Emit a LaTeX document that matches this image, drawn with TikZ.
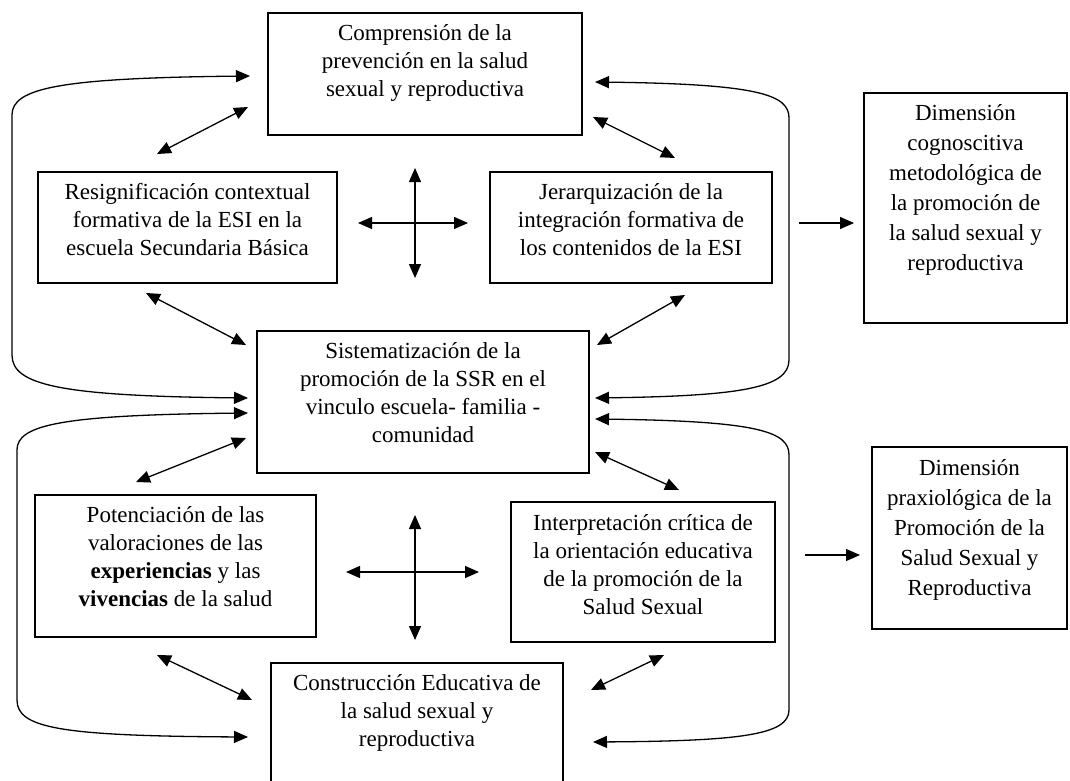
\documentclass[tikz,border=0pt]{standalone}
\usepackage{fontspec}
\setmainfont{Liberation Serif}
\usetikzlibrary{arrows.meta}
\begin{document}
\begin{tikzpicture}[x=1pt,y=-1pt,
        caja/.style={draw,line width=1.3pt,inner sep=0pt},
        texto/.style={anchor=north,align=center,inner sep=0pt,font=\fontsize{23}{28}\selectfont},
        textoalto/.style={texto,font=\fontsize{23}{30}\selectfont},
        flecha/.style={line width=1.3pt,-{Triangle[length=14pt,width=12pt]}},
        doble/.style={line width=1.3pt,{Triangle[length=14pt,width=12pt]}-{Triangle[length=14pt,width=12pt]}}]
            \useasboundingbox (0,0) rectangle (1070,781);
            \clip (0,0) rectangle (1070,781);
            % cajas
            \node(comp)[caja,minimum width=314pt,minimum height=122pt] at (425,74){};
            \node(resig)[caja,minimum width=299pt,minimum height=111pt] at (187.5,227.5){};
            \node(jer)[caja,minimum width=282pt,minimum height=111pt] at (631,227.5){};
            \node(dimcog)[caja,minimum width=203pt,minimum height=230pt] at (965.5,208){};
            \node(sist)[caja,minimum width=332pt,minimum height=142pt] at (423,402){};
            \node(pot)[caja,minimum width=281pt,minimum height=142pt] at (175.5,566){};
            \node(interp)[caja,minimum width=264pt,minimum height=140pt] at (643,572){};
            \node(dimprax)[caja,minimum width=195pt,minimum height=182pt] at (969.5,538){};
            \node(constr)[caja,minimum width=292pt,minimum height=137pt] at (417,731.5){};
            % textos
            \node(compt)[texto] at ([yshift=-12pt]comp.north){Comprensión de la\\prevención en la salud\\sexual y reproductiva};
            \node(resigt)[texto] at ([yshift=-12pt]resig.north){Resignificación contextual\\formativa de la ESI en la\\escuela Secundaria Básica};
            \node(jert)[texto] at ([yshift=-12pt]jer.north){Jerarquización de la\\integración formativa de\\los contenidos de la ESI};
            \node(dimcogt)[textoalto] at ([yshift=-12pt]dimcog.north){Dimensión\\cognoscitiva\\metodológica de\\la promoción de\\la salud sexual y\\reproductiva};
            \node(sistt)[texto] at ([yshift=-12pt]sist.north){Sistematización de la\\promoción de la SSR en el\\vinculo escuela- familia -\\comunidad};
            \node(pott)[texto] at ([yshift=-12pt]pot.north){Potenciación de las\\valoraciones de las\\\textbf{experiencias} y las\\\textbf{vivencias} de la salud};
            \node(interpt)[texto] at ([yshift=-13pt]interp.north){Interpretación crítica de\\la orientación educativa\\de la promoción de la\\Salud Sexual};
            \node(dimpraxt)[textoalto] at ([yshift=-13pt]dimprax.north){Dimensión\\praxiológica de la\\Promoción de la\\Salud Sexual y\\Reproductiva};
            \node(constrt)[texto] at ([yshift=-12pt]constr.north){Construcción Educativa de\\la salud sexual y\\reproductiva};
            % extremos libres
            \coordinate (c1) at (250,76);  \coordinate (c2) at (248,398);
            \coordinate (c3) at (595,82);  \coordinate (c4) at (595,398);
            \coordinate (c5) at (248,413); \coordinate (c6) at (248,737);
            \coordinate (c7) at (595,419); \coordinate (c8) at (593,742);
            \coordinate (d1) at (157,154); \coordinate (d2) at (248,107);
            \coordinate (d3) at (593,117); \coordinate (d4) at (675,158);
            \coordinate (d5) at (146,293); \coordinate (d6) at (246,345);
            \coordinate (d7) at (685,295); \coordinate (d8) at (597,345);
            \coordinate (e1) at (246,438); \coordinate (e2) at (136,482);
            \coordinate (e3) at (595,452); \coordinate (e4) at (679,490);
            \coordinate (e5) at (157,655); \coordinate (e6) at (252,700);
            \coordinate (e7) at (664,655); \coordinate (e8) at (591,690);
            \coordinate (xa) at (415,168); \coordinate (xb) at (415,278);
            \coordinate (xc) at (358,223); \coordinate (xd) at (468,223);
            \coordinate (xe) at (415,515); \coordinate (xf) at (415,640);
            \coordinate (xg) at (346,572); \coordinate (xh) at (479,572);
            \coordinate (r1) at (799,223); \coordinate (r2) at (854,223);
            \coordinate (r3) at (805,555); \coordinate (r4) at (860,555);
            % curvas
            \draw[doble] (c1) .. controls (60,78) and (12,88) .. (12,115) -- (12,355) .. controls (12,385) and (60,396) .. (c2);
            \draw[doble] (c3) .. controls (760,84) and (789,95) .. (789,118) -- (789,360) .. controls (789,388) and (740,396) .. (c4);
            \draw[doble] (c5) .. controls (60,415) and (17,425) .. (17,450) -- (17,700) .. controls (17,728) and (60,736) .. (c6);
            \draw[doble] (c7) .. controls (760,421) and (789,432) .. (789,455) -- (789,710) .. controls (789,735) and (740,741) .. (c8);
            % diagonales
            \draw[doble] (d1) -- (d2);
            \draw[doble] (d3) -- (d4);
            \draw[doble] (d5) -- (d6);
            \draw[doble] (d7) -- (d8);
            \draw[doble] (e1) -- (e2);
            \draw[doble] (e3) -- (e4);
            \draw[doble] (e5) -- (e6);
            \draw[doble] (e7) -- (e8);
            % cruces
            \draw[doble] (xa) -- (xb);
            \draw[doble] (xc) -- (xd);
            \draw[doble] (xe) -- (xf);
            \draw[doble] (xg) -- (xh);
            % hacia las dimensiones
            \draw[flecha] (r1) -- (r2);
            \draw[flecha] (r3) -- (r4);
        \end{tikzpicture}
\end{document}
